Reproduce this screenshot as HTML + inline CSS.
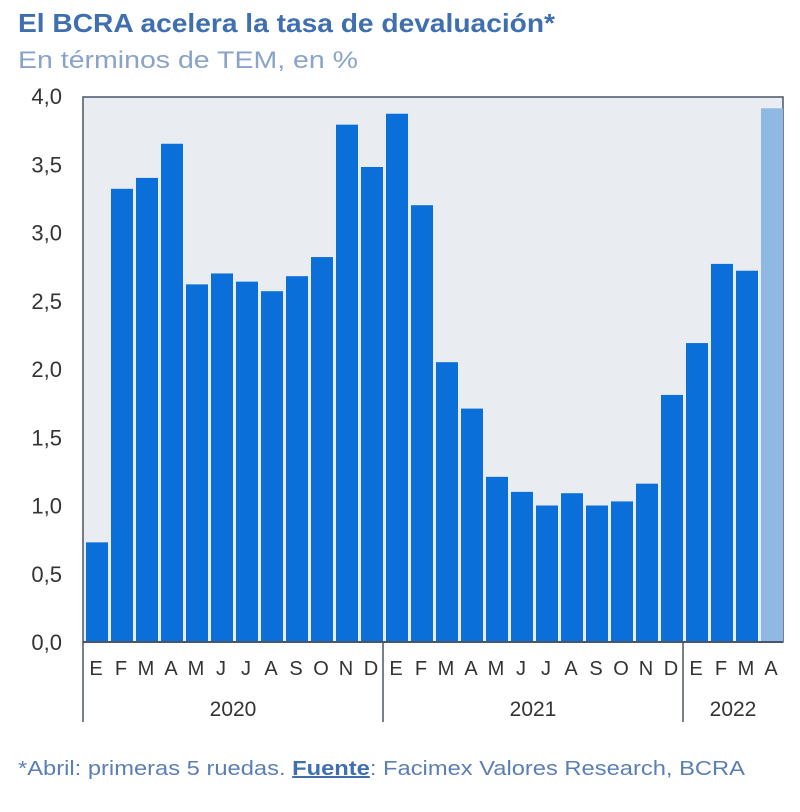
<!DOCTYPE html>
<html><head><meta charset="utf-8"><style>
body{margin:0;background:#fff;font-family:"Liberation Sans",sans-serif;}
</style></head><body>
<svg width="800" height="807" xmlns="http://www.w3.org/2000/svg">
<text x="18" y="32" font-size="26" font-weight="bold" fill="#3f6fae" textLength="537" lengthAdjust="spacingAndGlyphs">El BCRA acelera la tasa de devaluación*</text>
<text x="18" y="68" font-size="24" fill="#8aa3c8" textLength="340" lengthAdjust="spacingAndGlyphs">En términos de TEM, en %</text>
<rect x="83" y="97" width="700" height="545" fill="#e9edf2" stroke="#4a5568" stroke-width="1.5"/>
<g id="bars"></g><g id="yt"></g><g id="xt"></g>
<text x="18" y="775" font-size="20" fill="#5b7fb5" textLength="727" lengthAdjust="spacingAndGlyphs">*Abril: primeras 5 ruedas. <tspan text-decoration="underline" font-weight="bold" fill="#3f6fae">Fuente</tspan>: Facimex Valores Research, BCRA</text>
</svg>
<script>
const months=["E","F","M","A","M","J","J","A","S","O","N","D","E","F","M","A","M","J","J","A","S","O","N","D","E","F","M","A"];
const values=[0.73,3.32,3.40,3.65,2.62,2.70,2.64,2.57,2.68,2.82,3.79,3.48,3.87,3.20,2.05,1.71,1.21,1.10,1.00,1.09,1.00,1.03,1.16,1.81,2.19,2.77,2.72,3.91];
const yTicks=["0,0","0,5","1,0","1,5","2,0","2,5","3,0","3,5","4,0"];
const years=["2020","2021","2022"];
const yearStarts=[0,12,24,28];
const ns="http://www.w3.org/2000/svg";
const X0=83,BW=25,Y0=642,PX=136.5;
const xs=i=>X0+i*BW, ys=v=>Y0-v*PX;
function mk(t,a,p,txt){const e=document.createElementNS(ns,t);for(const k in a)e.setAttribute(k,a[k]);if(txt)e.textContent=txt;p.appendChild(e);return e;}
const gb=document.getElementById('bars'),gy=document.getElementById('yt'),gx=document.getElementById('xt');
values.forEach((v,i)=>{const r=mk('rect',{x:xs(i)+3,y:ys(v),width:22,height:v*PX,fill:i==27?'#8fb8e3':'#0a6fd8'},gb);

});
yTicks.forEach((t,i)=>{const e=mk('text',{x:62,y:ys(i*0.5)+8,'font-size':22,fill:'#333','text-anchor':'end'},gy,t);

});
mk('line',{x1:X0,x2:X0+700,y1:Y0,y2:Y0,stroke:'#4a5568','stroke-width':2},gx);
months.forEach((m,i)=>{const e=mk('text',{x:xs(i)+13,y:675,'font-size':20,fill:'#333','text-anchor':'middle'},gx,m);

});
yearStarts.forEach((s,i)=>{if(i<3)mk('line',{x1:xs(s),x2:xs(s),y1:Y0,y2:722,stroke:'#4a5568','stroke-width':1.5},gx);});
years.forEach((y,i)=>{const c=(xs(yearStarts[i])+xs(yearStarts[i+1]))/2;const e=mk('text',{x:c,y:716,'font-size':21,fill:'#333','text-anchor':'middle'},gx,y);

});
</script>
</body></html>
